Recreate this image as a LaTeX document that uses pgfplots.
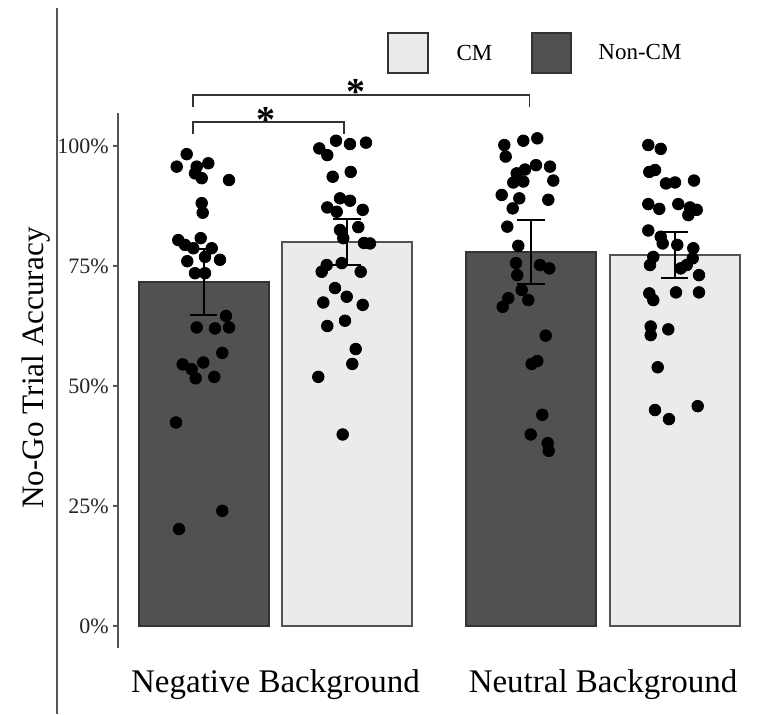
\documentclass[border=0pt]{standalone}
\usepackage{fontspec}
\setmainfont{Liberation Serif}
\usepackage{pgfplots}
\pgfplotsset{compat=1.18}
\definecolor{noncm}{HTML}{515151}
\definecolor{cmfill}{HTML}{EBEBEB}
\definecolor{edge}{HTML}{333333}
\definecolor{axisgray}{HTML}{555555}

\begin{document}
\begin{tikzpicture}
\useasboundingbox (0,0) rectangle (380.5pt,357pt);
% long frame line on the left
\draw[axisgray, line width=0.8pt] (28.5pt,0) -- (28.5pt,353pt);
\begin{axis}[
    at={(59pt,33pt)}, anchor=south west,
    scale only axis,
    width=316pt, height=267.5pt,
    xmin=1.18, xmax=7.50,
    ymin=-4.583, ymax=106.875,
    axis lines*=left,
    x axis line style={draw=none},
    y axis line style={axisgray, line width=1pt},
    xtick={2.755,6.03},
    xticklabels={Negative Background, Neutral Background},
    xtick style={draw=none},
    ytick={0,25,50,75,100},
    yticklabels={0\%,25\%,50\%,75\%,100\%},
    ytick style={axisgray, line width=0.8pt},
    tick align=outside,
    major tick length=2.5pt,
    yticklabel style={font=\fontsize{11}{13}\selectfont, text=black!85, inner xsep=2pt},
    xticklabel style={font=\fontsize{16.5}{19}\selectfont, anchor=base, yshift=-19.5pt},
    ylabel={No-Go Trial Accuracy},
    every axis y label/.style={at={([xshift=-37.5pt]rel axis cs:0,0.5234)},
        rotate=90, anchor=base, font=\fontsize{15.6}{18}\selectfont},
    clip=false,
    unbounded coords=jump,
]

% bars: Non-CM (dark) and CM (light)
\addplot[ybar, bar width=1.30, bar shift=0, fill=noncm, draw=edge, line width=1pt]
    coordinates {(2.035,71.7) (5.31,77.9)};
\addplot[ybar, bar width=1.30, bar shift=0, fill=cmfill, draw=edge!85, line width=1pt]
    coordinates {(3.47,80.0) (6.745,77.3)};

% standard errors: stems and caps
\addplot[black, line width=1pt] coordinates {
    (2.035,64.8) (2.035,78.6) (2.035,nan)
    (3.47,75.2) (3.47,84.8) (3.47,nan)
    (5.31,71.3) (5.31,84.5) (5.31,nan)
    (6.745,72.6) (6.745,82.0)
};
\addplot[black, line width=1pt] coordinates {
    (1.898,64.8) (2.172,64.8) (2.0,nan)
    (1.898,78.6) (2.172,78.6) (2.0,nan)
    (3.333,75.2) (3.607,75.2) (3.4,nan)
    (3.333,84.8) (3.607,84.8) (3.4,nan)
    (5.173,71.3) (5.447,71.3) (5.3,nan)
    (5.173,84.5) (5.447,84.5) (5.3,nan)
    (6.608,72.6) (6.882,72.6) (6.7,nan)
    (6.608,82.0) (6.882,82.0)
};

% participants, negative background, Non-CM
\addplot[only marks, mark=*, mark size=2.9pt, black] coordinates {
    (1.867,98.3) (1.767,95.7) (2.083,96.4) (1.967,95.7) (1.95,94.3)
    (2.017,93.3) (2.29,92.9) (2.017,88.1) (2.027,86.1) (1.783,80.4)
    (1.85,79.4) (2.007,80.8) (1.933,78.7) (2.117,78.7) (2.05,76.9)
    (1.873,76.0) (2.20,76.3) (1.95,73.5) (2.05,73.5) (2.26,64.6)
    (1.967,62.2) (2.15,62.0) (2.29,62.2) (2.223,56.9) (1.827,54.5)
    (2.033,54.9) (1.917,53.5) (1.957,51.6) (2.143,51.9) (1.76,42.4)
    (2.223,24.0) (1.79,20.2)
};
% negative background, CM
\addplot[only marks, mark=*, mark size=2.9pt, black] coordinates {
    (3.193,99.5) (3.36,101.1) (3.50,100.4) (3.66,100.7) (3.273,98.1)
    (3.327,93.6) (3.507,94.6) (3.40,89.1) (3.273,87.2) (3.50,88.6)
    (3.367,86.3) (3.627,86.7) (3.40,82.5) (3.583,83.1) (3.433,80.8)
    (3.70,79.7) (3.64,79.8) (3.267,75.2) (3.417,75.6) (3.217,73.8)
    (3.607,73.8) (3.35,70.4) (3.467,68.6) (3.233,67.4) (3.627,66.9)
    (3.45,63.6) (3.273,62.5) (3.557,57.7) (3.523,54.6) (3.183,51.9)
    (3.427,39.9)
};
% neutral background, Non-CM
\addplot[only marks, mark=*, mark size=2.9pt, black] coordinates {
    (5.043,100.2) (5.233,101.1) (5.373,101.6) (5.057,97.8) (5.36,96.0)
    (5.50,95.7) (5.25,95.1) (5.167,94.3) (5.533,92.8) (5.133,92.4)
    (5.233,92.6) (5.017,89.8) (5.193,89.1) (5.483,88.8) (5.127,87.0)
    (5.073,83.2) (5.183,79.2) (5.16,75.6) (5.40,75.2) (5.493,74.5)
    (5.173,73.1) (5.217,70.0) (5.283,67.9) (5.083,68.3) (5.027,66.5)
    (5.457,60.5) (5.317,54.6) (5.373,55.2) (5.423,44.0) (5.307,39.9)
    (5.477,38.1) (5.487,36.5)
};
% neutral background, CM
\addplot[only marks, mark=*, mark size=2.9pt, black] coordinates {
    (6.483,100.2) (6.607,99.4) (6.493,94.6) (6.55,95.0) (6.66,92.2)
    (6.75,92.4) (6.94,92.8) (6.483,87.9) (6.593,86.9) (6.783,87.9)
    (6.90,87.2) (6.967,86.7) (6.883,85.6) (6.483,82.4) (6.607,81.1)
    (6.627,79.7) (6.773,79.4) (6.933,78.7) (6.533,76.9) (6.50,75.2)
    (6.927,76.6) (6.867,75.2) (6.807,74.5) (6.99,73.1) (6.493,69.3)
    (6.533,67.9) (6.76,69.5) (6.99,69.5) (6.507,62.4) (6.507,60.6)
    (6.683,61.8) (6.577,53.9) (6.55,45.0) (6.69,43.1) (6.977,45.8)
};

% significance brackets
\draw[edge, line width=0.8pt] (axis cs:1.927,108.1) -- (axis cs:1.927,110.6)
    -- (axis cs:5.293,110.6) -- (axis cs:5.293,108.1);
\draw[edge, line width=0.8pt] (axis cs:1.927,102.6) -- (axis cs:1.927,105.06)
    -- (axis cs:3.44,105.06) -- (axis cs:3.44,102.6);
\node[font=\fontsize{19}{20}\selectfont\bfseries, anchor=base] at (axis cs:3.56,108.75) {*};
\node[font=\fontsize{19}{20}\selectfont\bfseries, anchor=base] at (axis cs:2.66,102.9) {*};

% legend
\draw[draw=edge, line width=1.3pt, fill=cmfill] (axis cs:3.88,115.2) rectangle (axis cs:4.28,123.54);
\node[font=\fontsize{11.5}{13}\selectfont] at (axis cs:4.745,119.35) {CM};
\draw[draw=edge, line width=1.3pt, fill=noncm] (axis cs:5.32,115.2) rectangle (axis cs:5.71,123.54);
\node[font=\fontsize{11.5}{13}\selectfont] at (axis cs:6.40,119.6) {Non-CM};

\end{axis}
\end{tikzpicture}
\end{document}
